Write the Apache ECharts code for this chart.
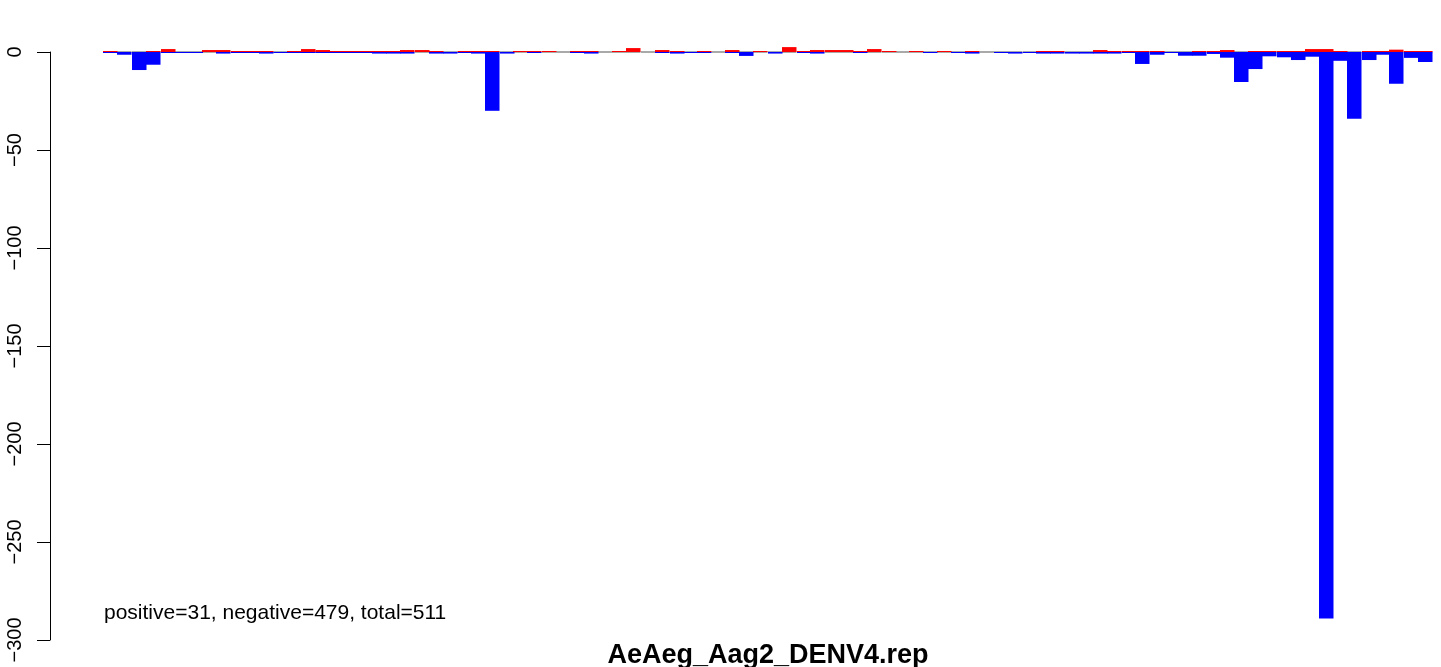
<!DOCTYPE html>
<html>
<head>
<meta charset="utf-8">
<script src="https://cdn.jsdelivr.net/npm/echarts@6/dist/echarts.min.js"></script>
<style>
html,body{margin:0;padding:0;background:#fff;}
#chart{width:1441px;height:667px;}
</style>
</head>
<body>
<div id="chart"></div>
<script>
// Genome positions (nt) of each read-count bar
const positions = [114,226,346,458,578,690,798,906,1018,1138,1250,1362,1478,1586,1698,1814,1930,2042,2154,2266,2378,2490,2610,2722,2834,2951,3058,3170,3290,3394,3506,3626,3738,3850,3962,4074,4186,4298,4418,4530,4650,4762,4866,4986,5090,5202,5314,5434,5546,5666,5770,5890,6002,6114,6226,6346,6458,6562,6674,6786,6898,7010,7130,7242,7354,7474,7578,7690,7810,7922,8034,8146,8266,8370,8490,8602,8714,8826,8946,9050,9162,9274,9386,9506,9618,9730,9842,9954,10066,10186,10290,10402,10522,10634];
// Positive-strand values (red)
const positiveValues = [0.5,0,0,0.5,1.5,0,0,1,1,0.5,0.5,0.5,0,0.5,1.5,1,0.5,0.5,0.5,0.5,0.5,1,1,0.5,0,0.5,0.5,0.5,0,0.5,0.5,0.5,0,0.5,0.5,0,0.5,2,0,1,0.5,0,0.5,0,1,0,0.5,0,2.5,0.5,1,1,1,0.5,1.5,0.5,0,0.5,0,0.5,0,0.5,0,0,0,0,0.5,0.5,0,0,1,0.5,0.5,0.5,0.5,0,0,0.5,0.5,1,0,0.5,0.5,0.5,0.5,1.5,1.5,0.5,0,0.5,0.5,1.2,0.5,0.5];
// Negative-strand values (blue)
const negativeValues = [-0.5,-1.4,-9.2,-6.5,-0.5,-0.5,-0.5,0,-0.8,-0.5,-0.5,-0.8,-0.5,-0.5,-0.5,-0.5,-0.5,-0.5,-0.5,-0.8,-0.8,-0.8,0,-0.8,-0.8,-0.5,-0.8,-30,-0.8,0,-0.5,0,0,-0.5,-0.8,0,0,0,0,-0.5,-0.8,-0.5,-0.5,0,-0.5,-2,0,-0.8,0,-0.5,-0.8,0,0,-0.5,0,0,0,0,-0.5,0,-0.5,-0.8,0,-0.5,-0.8,-0.5,-0.8,-0.8,-0.8,-0.8,-0.8,-0.8,-0.5,-6.1,-1.4,-0.5,-1.9,-1.9,-1,-2.9,-15.3,-8.7,-2.2,-2.7,-4.1,-2.4,-289,-4.5,-34,-4.1,-1.4,-16.2,-3,-5.1];
const yTickValues = [0,-50,-100,-150,-200,-250,-300];
const summaryText = 'positive=31, negative=479, total=511';
const chartTitle = 'AeAeg_Aag2_DENV4.rep';
const zeroBandHalf = 0.5;

const FONT = '"Liberation Sans", Arial, Helvetica, sans-serif';
const chart = echarts.init(document.getElementById('chart'), null, {renderer:'canvas'});

const barCommon = {type:'bar', barWidth:14.5, barGap:'-100%', clip:false, silent:true, animation:false};

chart.setOption({
  animation:false,
  backgroundColor:'#ffffff',
  grid:{left:50, right:1, top:52, bottom:27, containLabel:false},
  xAxis:{type:'value', min:-368, max:10752, show:false},
  yAxis:{
    type:'value', min:yTickValues[yTickValues.length-1], max:yTickValues[0], interval:50,
    axisLine:{show:true, onZero:false, lineStyle:{color:'#000', width:1}},
    axisTick:{show:true, length:13, inside:false, lineStyle:{color:'#000', width:1}},
    axisLabel:{rotate:90, margin:25, color:'#000', fontSize:20, fontFamily:FONT,
      formatter:(v)=> String(v).replace('-', '\u2212')},
    splitLine:{show:false}
  },
  series:[
    Object.assign({}, barCommon, {name:'band+', itemStyle:{color:'#a9a9a9'}, data:positions.map(p=>[p, zeroBandHalf])}),
    Object.assign({}, barCommon, {name:'band-', itemStyle:{color:'#a9a9a9'}, data:positions.map(p=>[p, -zeroBandHalf])}),
    Object.assign({}, barCommon, {name:'positive', itemStyle:{color:'#ff0000'}, data:positions.map((p,i)=>[p, positiveValues[i]])}),
    Object.assign({}, barCommon, {name:'negative', itemStyle:{color:'#0000ff'}, data:positions.map((p,i)=>[p, negativeValues[i]])})
  ],
  graphic:[
    {type:'text', left:104, top:603, silent:true,
      style:{text:summaryText, fill:'#000', fontSize:21, fontFamily:FONT}},
    {type:'text', x:768, y:656, silent:true,
      style:{text:chartTitle, fill:'#000', fontSize:27, fontWeight:'bold', fontFamily:FONT, align:'center', verticalAlign:'middle'}}
  ]
});
</script>
</body>
</html>
